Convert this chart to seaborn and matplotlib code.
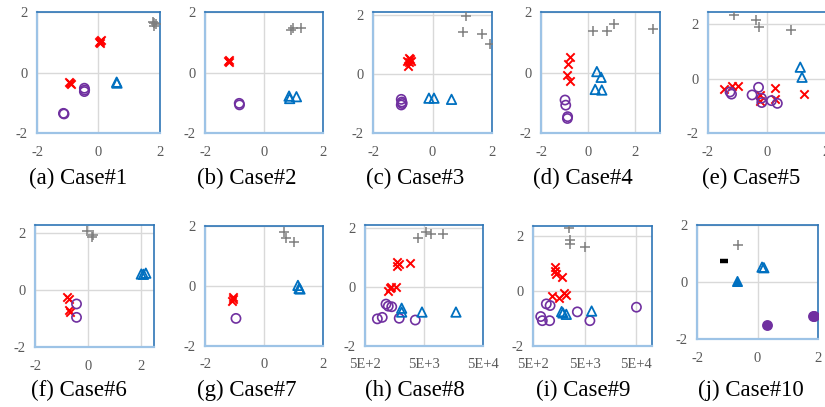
import matplotlib
matplotlib.use("Agg")
import matplotlib.pyplot as plt
import seaborn as sns
import pandas as pd
from matplotlib.ticker import FixedLocator, FixedFormatter, NullLocator

sns.set_theme(style="white")
plt.rcParams['font.family'] = ['Liberation Serif', 'DejaVu Serif']

# ---------------- data ----------------
captions = ["(a) Case#1", "(b) Case#2", "(c) Case#3", "(d) Case#4", "(e) Case#5",
            "(f) Case#6", "(g) Case#7", "(h) Case#8", "(i) Case#9", "(j) Case#10"]

c1_gray = [(1.76, 1.68), (1.82, 1.55), (1.86, 1.60), (1.80, 1.62)]
c1_red = [(0.03, 1.00), (0.08, 1.08), (0.05, 1.04), (0.06, 0.98),
          (-0.95, -0.33), (-0.90, -0.38), (-0.93, -0.36)]
c1_purple = [(-0.46, -0.52), (-0.46, -0.63), (-0.45, -0.58), (-1.14, -1.35), (-1.12, -1.37)]
c1_blue = [(0.59, -0.32), (0.60, -0.35)]

c2_gray = [(0.92, 1.42), (0.98, 1.48), (1.25, 1.47)]
c2_red = [(-1.20, 0.42), (-1.18, 0.35), (-1.21, 0.38)]
c2_purple = [(-0.84, -1.02), (-0.83, -1.07)]
c2_blue = [(0.85, -0.78), (0.87, -0.86), (1.10, -0.80)]

c3_gray = [(1.12, 1.98), (1.03, 1.41), (1.68, 1.35), (1.93, 1.00)]
c3_red = [(-0.80, 0.55), (-0.75, 0.50), (-0.85, 0.45), (-0.78, 0.40), (-0.82, 0.27), (-0.72, 0.45)]
c3_purple = [(-1.05, -0.86), (-1.03, -0.95), (-1.05, -1.05), (-1.02, -1.00)]
c3_blue = [(-0.12, -0.82), (0.05, -0.82), (0.64, -0.86)]

c4_gray = [(0.20, 1.38), (0.82, 1.38), (1.08, 1.60), (2.75, 1.45)]
c4_red = [(-0.77, 0.50), (-0.84, 0.27), (-0.91, -0.08), (-0.77, -0.28)]
c4_purple = [(-0.98, -0.91), (-0.95, -1.08), (-0.87, -1.46), (-0.88, -1.52)]
c4_blue = [(0.37, 0.03), (0.55, -0.16), (0.30, -0.56), (0.58, -0.58)]

c5_gray = [(-1.13, 2.34), (-0.37, 2.16), (-0.28, 1.90), (0.82, 1.80)]
c5_red = [(-1.46, -0.37), (-1.20, -0.28), (-0.97, -0.28), (-0.24, -0.62), (-0.24, -0.84),
          (0.27, -0.34), (0.27, -0.74), (1.27, -0.57)]
c5_purple = [(-1.25, -0.49), (-1.20, -0.57), (-0.28, -0.32), (-0.50, -0.60), (-0.18, -0.72),
             (-0.17, -0.88), (0.16, -0.81), (0.36, -0.91)]
c5_blue = [(1.14, 0.42), (1.20, 0.05)]

c6_gray = [(-0.03, 2.08), (0.20, 1.93), (0.14, 1.85)]
c6_red = [(-0.78, -0.26), (-0.72, -0.30), (-0.68, -0.76), (-0.72, -0.70)]
c6_purple = [(-0.43, -0.49), (-0.43, -0.96)]
c6_blue = [(2.02, 0.56), (2.19, 0.59), (2.10, 0.55)]

c7_gray = [(0.68, 1.81), (0.73, 1.61), (1.00, 1.48)]
c7_red = [(-1.06, -0.43), (-1.05, -0.35), (-1.07, -0.50)]
c7_purple = [(-0.95, -1.08)]
c7_blue = [(1.15, 0.02), (1.19, -0.08), (1.22, -0.10)]

c8_gray = [(4000, 1.65), (5400, 1.87), (6460, 1.78), (10370, 1.78)]
c8_red = [(1720, 0.84), (1720, 0.70), (1900, 0.77), (2900, 0.80),
          (1330, -0.02), (1240, -0.12), (1370, 0.00), (1680, 0.00)]
c8_purple = [(1135, -0.58), (1240, -0.65), (1420, -0.67), (810, -1.08), (980, -1.03),
             (1900, -1.06), (3560, -1.12)]
c8_blue = [(2090, -0.72), (2090, -0.85), (4620, -0.85), (17400, -0.85)]

c9_gray = [(2480, 2.28), (2560, 1.85), (2560, 1.71), (5030, 1.61)]
c9_red = [(1330, 0.86), (1330, 0.74), (1410, 0.62), (1840, 0.52),
          (1180, -0.20), (1590, -0.24), (2010, -0.08), (2200, -0.15)]
c9_purple = [(904, -0.47), (1070, -0.53), (705, -0.93), (757, -1.08), (1050, -1.08),
             (3600, -0.76), (6300, -1.08), (50000, -0.59)]
c9_blue = [(1790, -0.75), (1900, -0.80), (2200, -0.85), (6800, -0.73)]

c10_gray = [(-0.65, 1.30)]
c10_black = [(-1.10, 0.74)]
c10_blue = [(0.15, 0.52), (0.21, 0.50)]
c10_blue_filled = [(-0.67, 0.05)]
c10_purple_filled = [(0.32, -1.51), (1.83, -1.19), (1.88, -1.21)]

lin_ticks = [-2, 0, 2]
lin_labels = ["-2", "0", "2"]
log_ticks = [500, 5000, 50000]
log_labels = ["5E+2", "5E+3", "5E+4"]

series = {
    1: {"gray": c1_gray, "red": c1_red, "purple": c1_purple, "blue": c1_blue},
    2: {"gray": c2_gray, "red": c2_red, "purple": c2_purple, "blue": c2_blue},
    3: {"gray": c3_gray, "red": c3_red, "purple": c3_purple, "blue": c3_blue},
    4: {"gray": c4_gray, "red": c4_red, "purple": c4_purple, "blue": c4_blue},
    5: {"gray": c5_gray, "red": c5_red, "purple": c5_purple, "blue": c5_blue},
    6: {"gray": c6_gray, "red": c6_red, "purple": c6_purple, "blue": c6_blue},
    7: {"gray": c7_gray, "red": c7_red, "purple": c7_purple, "blue": c7_blue},
    8: {"gray": c8_gray, "red": c8_red, "purple": c8_purple, "blue": c8_blue},
    9: {"gray": c9_gray, "red": c9_red, "purple": c9_purple, "blue": c9_blue},
    10: {"gray": c10_gray, "black": c10_black, "blue": c10_blue,
         "blue_filled": c10_blue_filled, "purple_filled": c10_purple_filled},
}

rows = []
for case, groups in series.items():
    for grp, pts in groups.items():
        for x, y in pts:
            rows.append({"case": case, "group": grp, "x": x, "y": y})
df = pd.DataFrame(rows)

# ---------------- styling ----------------
W, H = 825, 407
fig = plt.figure(figsize=(W / 100, H / 100), dpi=100)

# axes rectangles in pixels: left, top, right, bottom
rects = {
    1: (37, 12, 160, 133), 2: (205, 12, 323, 133), 3: (373, 12, 492, 133),
    4: (541, 12, 660, 133), 5: (708, 12, 827, 133),
    6: (35, 225, 154, 347), 7: (205, 226, 323, 346), 8: (365, 225, 483, 346),
    9: (533, 226, 652, 346), 10: (697, 225, 818, 339),
}
limits = {
    1: ((-2, 2), (-2, 2)), 2: ((-2, 2), (-2, 2)), 3: ((-2, 2), (-2, 2.1)),
    4: ((-2, 3.05), (-2, 2)), 5: ((-2, 2.05), (-2, 2.45)),
    6: ((-2, 2.5), (-2, 2.28)), 7: ((-2, 2), (-2, 2)), 8: ((500, 50000), (-2, 2.1)),
    9: ((500, 100000), (-2, 2.36)), 10: ((-2, 2), (-2, 2)),
}
caption_pos = {1: (78, 178), 2: (247, 178), 3: (415, 178), 4: (583, 178), 5: (751, 178),
               6: (79, 390), 7: (247, 390), 8: (415, 390), 9: (583, 390), 10: (751, 390)}

styles = {
    "gray": dict(marker="+", color="#7F7F7F", s=42, linewidth=1.1),
    "red": dict(marker="x", color="#FF0000", s=36, linewidth=1.4),
    "purple": dict(marker="o", color="#7030A0", facecolor="none", edgecolor="#7030A0",
                   s=44, linewidth=1.2),
    "blue": dict(marker="^", color="#0070C0", facecolor="none", edgecolor="#0070C0",
                 s=46, linewidth=1.3),
    "blue_filled": dict(marker="^", color="#0070C0", edgecolor="#0070C0", s=44, linewidth=1.3),
    "purple_filled": dict(marker="o", color="#7030A0", edgecolor="#7030A0", s=44, linewidth=1.2),
    "black": dict(marker="_", color="black", s=28, linewidth=3.2),
}

for case in range(1, 11):
    l, t, r, b = rects[case]
    ax = fig.add_axes([l / W, 1 - b / H, (r - l) / W, (b - t) / H])
    sub = df[df["case"] == case]
    for grp in series[case]:
        g = sub[sub["group"] == grp]
        sns.scatterplot(data=g, x="x", y="y", ax=ax, legend=False, zorder=3,
                        **styles[grp])
    (x0, x1), (y0, y1) = limits[case]
    if case in (8, 9):
        ax.set_xscale("log")
        ax.xaxis.set_major_locator(FixedLocator(log_ticks))
        ax.xaxis.set_major_formatter(FixedFormatter(log_labels))
        ax.xaxis.set_minor_locator(NullLocator())
    else:
        ax.xaxis.set_major_locator(FixedLocator(lin_ticks))
        ax.xaxis.set_major_formatter(FixedFormatter(lin_labels))
    ax.yaxis.set_major_locator(FixedLocator(lin_ticks))
    ax.yaxis.set_major_formatter(FixedFormatter(lin_labels))
    ax.set_xlim(x0, x1)
    ax.set_ylim(y0, y1)
    ax.set_xlabel("")
    ax.set_ylabel("")
    ax.grid(True, color="#D9D9D9", linewidth=1.0, zorder=0)
    ax.set_axisbelow(True)
    ax.tick_params(axis="both", length=0, labelsize=10.5, labelcolor="#595959")
    ax.tick_params(axis="x", pad=9)
    ax.tick_params(axis="y", pad=7)
    for side in ("left", "bottom"):
        ax.spines[side].set_color("#9DC3E6")
        ax.spines[side].set_linewidth(1.6)
    for side in ("top", "right"):
        ax.spines[side].set_color("#2E75B6")
        ax.spines[side].set_linewidth(1.2)
    cx, cy = caption_pos[case]
    fig.text(cx / W, 1 - cy / H, captions[case - 1], ha="center", va="center",
             fontsize=16.5, color="black")

fig.savefig("out.png", dpi=100)
